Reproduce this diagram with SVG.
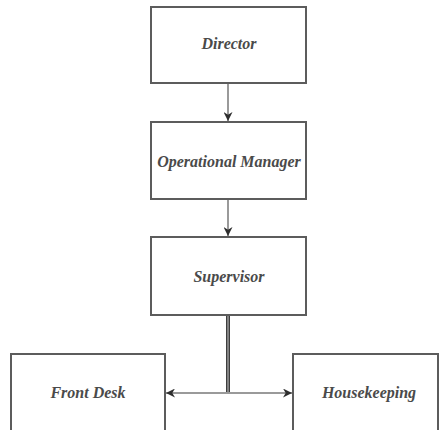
<svg xmlns="http://www.w3.org/2000/svg" width="439" height="430" viewBox="0 0 439 430">
  <style>
    .box { fill: #ffffff; stroke: #5c5c5c; stroke-width: 2; }
    .label { font-family: "Liberation Serif", "Times New Roman", serif; font-style: italic; font-weight: bold; font-size: 16px; fill: #4a4a4a; text-anchor: middle; }
    .link { fill: none; stroke: #9a9a9a; stroke-width: 2; }
    .trunk { fill: none; stroke: #3e3e3e; stroke-width: 4; }
    .trunk-core { fill: none; stroke: #9a9a9a; stroke-width: 1.5; }
  </style>
  <defs>
    <marker id="arrow" viewBox="0 0 10 10" refX="10" refY="5" markerWidth="9" markerHeight="9" markerUnits="userSpaceOnUse" orient="auto">
      <path d="M0,0 L10,5 L0,10 L3,5 Z" fill="#2e2e2e"/>
    </marker>
  </defs>
  <rect width="439" height="430" fill="#ffffff"/>

  <g id="connectors">
    <line class="link" x1="228" y1="83" x2="228" y2="121" marker-end="url(#arrow)"/>
    <line class="link" x1="228" y1="199" x2="228" y2="236" marker-end="url(#arrow)"/>
    <line class="trunk" x1="228" y1="315" x2="228" y2="393"/>
    <line class="trunk-core" x1="228" y1="316" x2="228" y2="392"/>
    <line class="link" x1="228" y1="393" x2="166" y2="393" marker-end="url(#arrow)"/>
    <line class="link" x1="228" y1="393" x2="292" y2="393" marker-end="url(#arrow)"/>
  </g>

  <g id="director">
    <rect class="box" x="151" y="7" width="155" height="76"/>
    <text class="label" x="229" y="49">Director</text>
  </g>

  <g id="operational-manager">
    <rect class="box" x="151" y="122" width="155" height="77"/>
    <text class="label" x="229" y="167">Operational Manager</text>
  </g>

  <g id="supervisor">
    <rect class="box" x="151" y="237" width="155" height="78"/>
    <text class="label" x="229" y="282">Supervisor</text>
  </g>

  <g id="front-desk">
    <rect class="box" x="11" y="354" width="154" height="90"/>
    <text class="label" x="88" y="398">Front Desk</text>
  </g>

  <g id="housekeeping">
    <rect class="box" x="293" y="354" width="145" height="90"/>
    <text class="label" x="369" y="398">Housekeeping</text>
  </g>
</svg>
